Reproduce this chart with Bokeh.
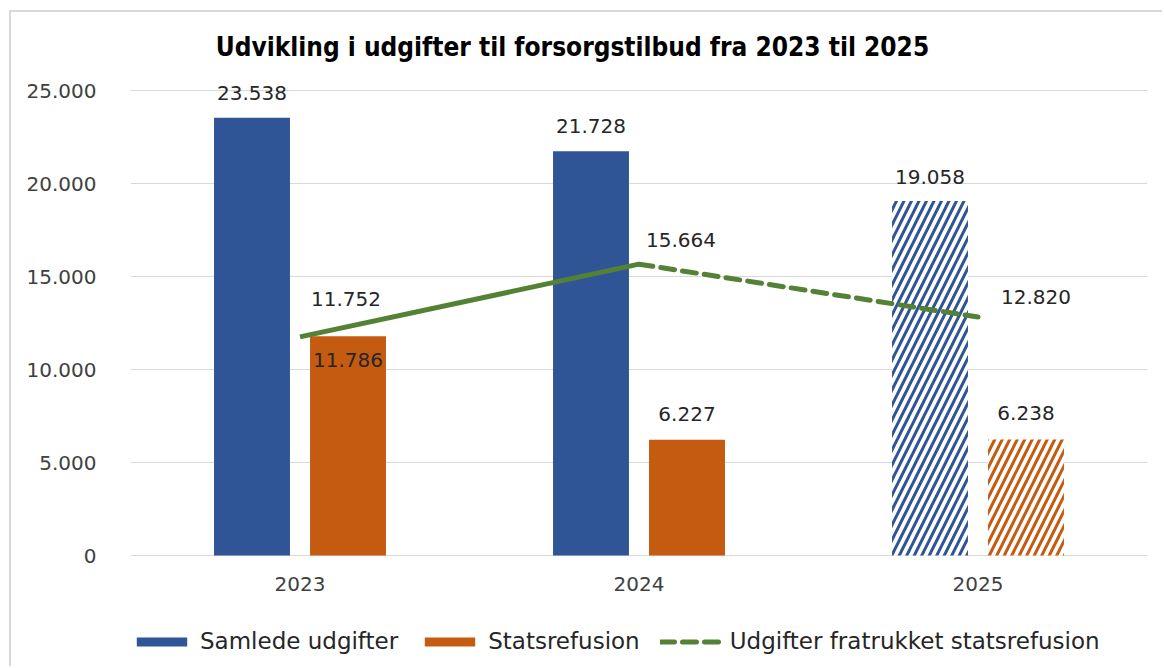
from bokeh.plotting import figure
from bokeh.models import (ColumnDataSource, FactorRange, Range1d, LabelSet, Label,
                          Legend, LegendItem, FixedTicker, CustomJSTickFormatter)
from bokeh.transform import dodge
from bokeh.core.properties import value
from bokeh.embed import file_html
from bokeh.resources import INLINE

# ---- data ----
years = ["2023", "2024", "2025"]
samlede_udgifter = [23538, 21728, 19058]
statsrefusion = [11786, 6227, 6238]
udgifter_fratrukket = [11752, 15664, 12820]
y_ticks = [0, 5000, 10000, 15000, 20000, 25000]
n_actual = 2  # first two years are actual figures, the last is hatched (budget)

title_text = "Udvikling i udgifter til forsorgstilbud  fra 2023 til 2025"
legend_labels = ["Samlede udgifter", "Statsrefusion", "Udgifter fratrukket statsrefusion"]

# ---- styles / layout ----
BLUE = "#2F5597"
ORANGE = "#C55A11"
GREEN = "#548235"
GRID = "#d9d9d9"
TXT = "#262626"
NUM_FONT = "DejaVu Sans"
NUM_SIZE = "20px"
BAR_W = 0.224
OFF = 0.1416
# frame covers the whole canvas height so title, labels and legend are not clipped
Y_BOTTOM = -6075
Y_TOP = 29194

# label placement (pixels)
tot_dy = [25, 25, 24]
ref_dy = [-24, 26, 26]
net_dx = [46, 42, 58]
net_dy = [38, 24, 20]


def fmt(v):
    return f"{v:,}".replace(",", ".")


p = figure(x_range=FactorRange(*years), y_range=Range1d(Y_BOTTOM, Y_TOP),
           width=1153, height=656, output_backend="svg", toolbar_location=None,
           min_border_left=119, min_border_right=17, min_border_top=0,
           min_border_bottom=0)
p.margin = (10, 0, 0, 9)
p.styles = {"border-left": "2px solid #d9d9d9", "border-top": "2px solid #d9d9d9"}
p.outline_line_color = None
p.background_fill_color = "white"
p.border_fill_color = "white"

# sources
tot_solid = ColumnDataSource(dict(year=years[:n_actual], v=samlede_udgifter[:n_actual]))
tot_hatch = ColumnDataSource(dict(year=years[n_actual:], v=samlede_udgifter[n_actual:]))
ref_solid = ColumnDataSource(dict(year=years[:n_actual], v=statsrefusion[:n_actual]))
ref_hatch = ColumnDataSource(dict(year=years[n_actual:], v=statsrefusion[n_actual:]))

r_tot = p.vbar(x=dodge("year", -OFF, range=p.x_range), top="v", width=BAR_W,
               source=tot_solid, fill_color=BLUE, line_color=None)
p.vbar(x=dodge("year", -OFF, range=p.x_range), top="v", width=BAR_W,
       source=tot_hatch, fill_color="white", line_color=None,
       hatch_pattern="/", hatch_color=BLUE, hatch_scale=15, hatch_weight=3)
r_ref = p.vbar(x=dodge("year", OFF, range=p.x_range), top="v", width=BAR_W,
               source=ref_solid, fill_color=ORANGE, line_color=None)
p.vbar(x=dodge("year", OFF, range=p.x_range), top="v", width=BAR_W,
       source=ref_hatch, fill_color="white", line_color=None,
       hatch_pattern="/", hatch_color=ORANGE, hatch_scale=15, hatch_weight=3)

# line: solid for actual years, dashed towards the budget year
p.line(x=years[:n_actual], y=udgifter_fratrukket[:n_actual], line_color=GREEN,
       line_width=5)
r_net = p.line(x=years[n_actual - 1:], y=udgifter_fratrukket[n_actual - 1:],
               line_color=GREEN, line_width=5, line_dash="14 8", line_cap="round")

# value labels
lab_src_tot = ColumnDataSource(dict(year=years, v=samlede_udgifter,
                                    t=[fmt(v) for v in samlede_udgifter], dy=tot_dy))
lab_src_ref = ColumnDataSource(dict(year=years, v=statsrefusion,
                                    t=[fmt(v) for v in statsrefusion], dy=ref_dy))
lab_src_net = ColumnDataSource(dict(year=years, v=udgifter_fratrukket,
                                    t=[fmt(v) for v in udgifter_fratrukket],
                                    dx=net_dx, dy=net_dy))
common = dict(text_font=value(NUM_FONT), text_font_size=NUM_SIZE, text_color=TXT,
              text_align="center", text_baseline="middle")
p.add_layout(LabelSet(x=dodge("year", -OFF, range=p.x_range), y="v", text="t",
                      y_offset="dy", source=lab_src_tot, **common))
p.add_layout(LabelSet(x=dodge("year", OFF, range=p.x_range), y="v", text="t",
                      y_offset="dy", source=lab_src_ref, **common))
p.add_layout(LabelSet(x="year", y="v", text="t", x_offset="dx", y_offset="dy",
                      source=lab_src_net, **common))

# category labels under the baseline
cat_src = ColumnDataSource(dict(year=years))
p.add_layout(LabelSet(x="year", y=0, text="year", y_offset=-28, source=cat_src,
                      text_font=value(NUM_FONT), text_font_size=NUM_SIZE,
                      text_color="#404040", text_align="center",
                      text_baseline="middle"))

# title (inside the frame's head-room)
p.add_layout(Label(x=446, y=622, x_units="screen", y_units="screen", text=title_text,
                   text_font="'DejaVu Sans Condensed', 'DejaVu Sans'",
                   text_font_style="bold", text_font_size="26px", text_color="black",
                   text_align="center", text_baseline="middle"))

# axes
p.yaxis.ticker = FixedTicker(ticks=y_ticks)
p.yaxis.formatter = CustomJSTickFormatter(
    code="return Math.round(tick).toString().replace(/\\B(?=(\\d{3})+(?!\\d))/g, '.');")
p.yaxis.axis_line_color = None
p.yaxis.major_tick_line_color = None
p.yaxis.minor_tick_line_color = None
p.yaxis.major_label_standoff = 28
p.yaxis.major_label_text_font = NUM_FONT
p.yaxis.major_label_text_font_size = NUM_SIZE
p.yaxis.major_label_text_color = "#404040"
p.xaxis.visible = False
p.xgrid.grid_line_color = None
p.ygrid.grid_line_color = GRID
p.ygrid.grid_line_width = 1

legend = Legend(items=[LegendItem(label=legend_labels[0], renderers=[r_tot]),
                       LegendItem(label=legend_labels[1], renderers=[r_ref]),
                       LegendItem(label=legend_labels[2], renderers=[r_net])],
                orientation="horizontal", location=(0, 14),
                glyph_width=63, glyph_height=11, label_standoff=7, spacing=20,
                padding=0, margin=0, border_line_color=None, background_fill_alpha=0,
                label_text_font=NUM_FONT, label_text_font_size="23px",
                label_text_color=TXT)
p.add_layout(legend)

open("out.html", "w").write(file_html(p, INLINE))
